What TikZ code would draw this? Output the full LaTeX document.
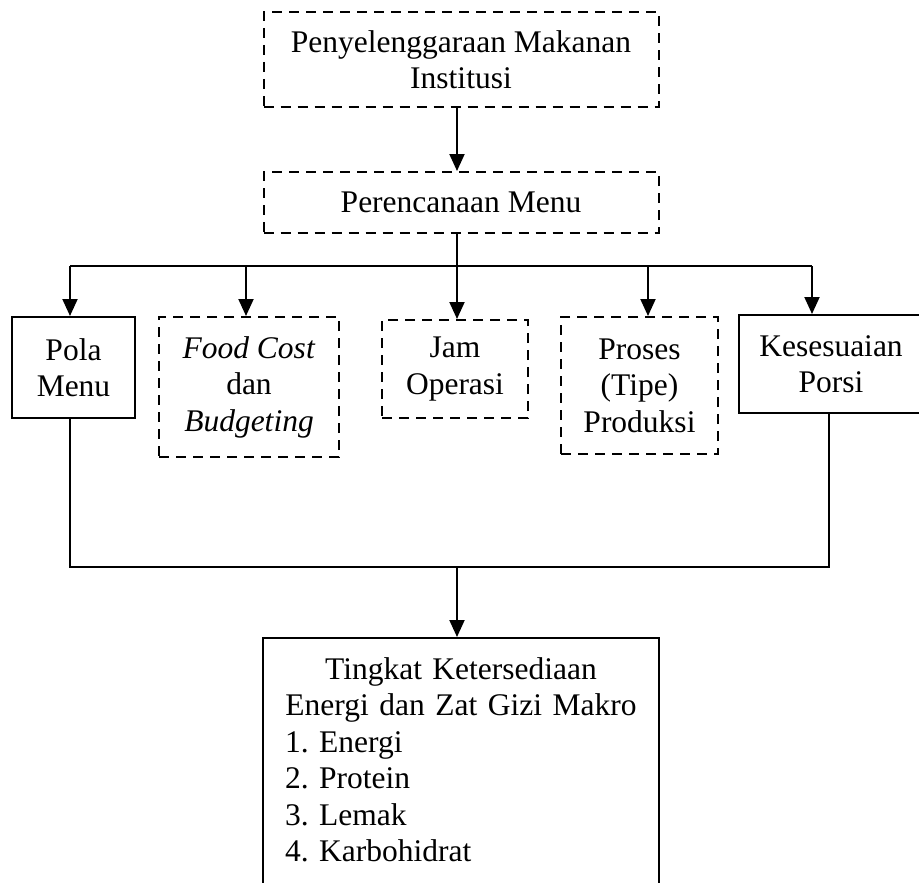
\documentclass[tikz,border=0pt]{standalone}
\usepackage{fontspec}
\setmainfont{Liberation Serif}
\frenchspacing
\usetikzlibrary{arrows.meta}

\tikzset{
  kotak/.style={draw,line width=2pt,align=center,inner sep=0pt,
    font=\fontsize{31.5}{36.5}\selectfont},
  kotakputus/.style={kotak,dash pattern=on 10pt off 7pt},
  panah/.style={line width=2pt,-{Triangle[width=15pt,length=17pt]}},
  garis/.style={line width=2pt}
}

\begin{document}
\begin{tikzpicture}[x=1pt,y=-1pt]
\useasboundingbox (0,0) rectangle (919,883);

\node[kotakputus,minimum width=395pt,minimum height=95pt] (institusi) at (461,59.5) {Penyelenggaraan Makanan\\Institusi};
\node[kotakputus,minimum width=395pt,minimum height=61pt] (menu) at (461,202.5) {Perencanaan Menu};

\node[kotak,minimum width=123pt,minimum height=101pt] (pola) at (73.5,367.5) {Pola\\Menu};
\node[kotakputus,minimum width=180pt,minimum height=140pt] (biaya) at (249,387) {\textit{Food Cost}\\dan\\\textit{Budgeting}};
\node[kotakputus,minimum width=146pt,minimum height=98pt] (jam) at (455,369) {Jam\\Operasi};
\node[kotakputus,minimum width=157pt,minimum height=137pt] (produksi) at (639.5,385.5) {Proses\\(Tipe)\\Produksi};
\node[kotak,minimum width=184pt,minimum height=98pt] (porsi) at (831,364) {Kesesuaian\\Porsi};

\node[kotak,anchor=north,text width=352pt,align=left,inner xsep=22pt,inner ysep=19.5pt] (tingkat) at (461,637)
  {{\centering Tingkat Ketersediaan\\Energi dan Zat Gizi Makro\par}1. Energi\\2. Protein\\3. Lemak\\4. Karbohidrat\\[30pt]\mbox{}};

\coordinate (poros) at (457,266);
\coordinate (t1) at (70,266);
\coordinate (t2) at (246,266);
\coordinate (t4) at (648,266);
\coordinate (t5) at (812,266);
\coordinate (b1) at (70,567);
\coordinate (b5) at (829,567);

\draw[panah] (institusi.south -| poros) -- (menu.north -| poros);
\draw[panah] (menu.south -| poros) -- (jam.north -| poros);
\draw[garis] (t1) -- (t5);
\draw[panah] (t1) -- (t1 |- pola.north);
\draw[panah] (t2) -- (t2 |- biaya.north);
\draw[panah] (t4) -- (t4 |- produksi.north);
\draw[panah] (t5) -- (t5 |- porsi.north);

\draw[garis] (b1 |- pola.south) -- (b1) -- (b5) -- (b5 |- porsi.south);
\draw[panah] (b1 -| poros) -- (tingkat.north -| poros);
\end{tikzpicture}
\end{document}
